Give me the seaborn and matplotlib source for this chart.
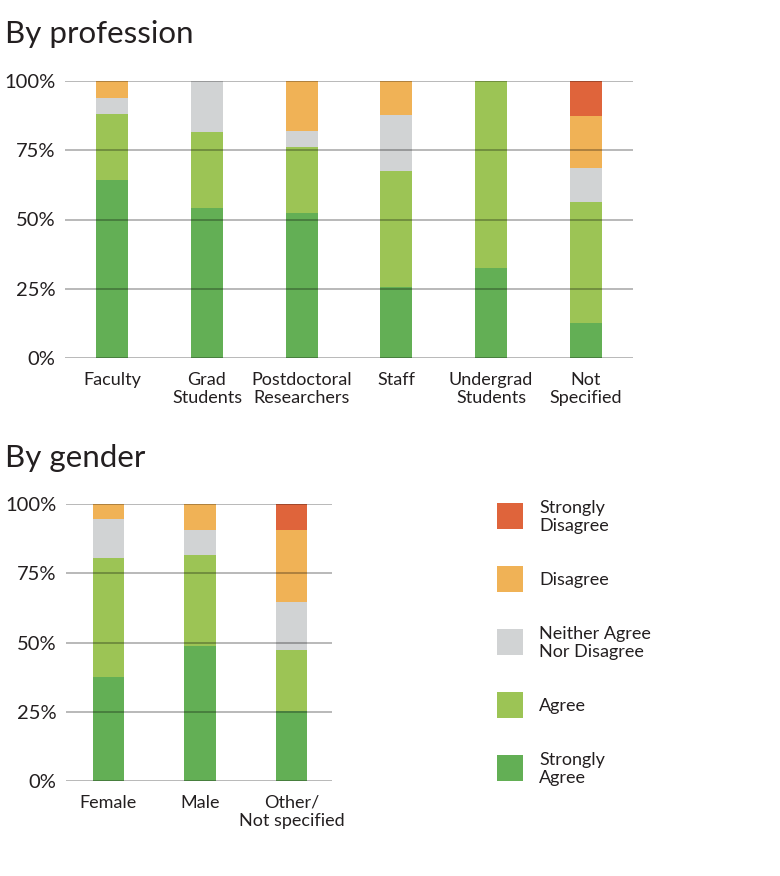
import matplotlib
matplotlib.use("Agg")
import matplotlib.pyplot as plt
from matplotlib.patches import Rectangle
import numpy as np
import seaborn as sns

# Survey responses, percent of respondents in each group
levels = ["Strongly\nDisagree", "Disagree", "Neither Agree\nNor Disagree", "Agree", "Strongly\nAgree"]
colors = ["#DF643B", "#F0B256", "#D1D3D4", "#9CC455", "#63AF55"]

prof_categories = ["Faculty", "Grad\nStudents", "Postdoctoral\nResearchers", "Staff",
                   "Undergrad\nStudents", "Not\nSpecified"]
prof_strongly_agree = [64.2, 54.0, 52.3, 25.6, 32.4, 12.5]
prof_agree = [23.9, 27.5, 23.7, 41.8, 67.6, 43.75]
prof_neither = [5.6, 18.5, 5.9, 20.5, 0.0, 12.5]
prof_disagree = [6.3, 0.0, 18.1, 12.1, 0.0, 18.75]
prof_strongly_disagree = [0.0, 0.0, 0.0, 0.0, 0.0, 12.5]

gender_categories = ["Female", "Male", "Other/\nNot specified"]
gender_strongly_agree = [37.4, 48.6, 25.3]
gender_agree = [43.2, 33.1, 22.1]
gender_neither = [14.1, 8.9, 17.1]
gender_disagree = [5.3, 9.4, 26.1]
gender_strongly_disagree = [0.0, 0.0, 9.4]

sns.set_theme(style="white")
plt.rcParams["font.family"] = ["Lato", "DejaVu Sans"]
text_color = "#231F20"


def stacked_bars(ax, categories, series, xlim):
    # series ordered bottom -> top; draw cumulative totals from the top down
    cum = np.cumsum(np.array(series), axis=0)
    bar_colors = colors[::-1]
    for i in range(len(series) - 1, -1, -1):
        sns.barplot(x=categories, y=cum[i], color=bar_colors[i], saturation=1,
                    width=0.34, order=categories, ax=ax, linewidth=0)
    ax.set_xlim(*xlim)
    ax.set_ylim(0, 100)
    ax.set_yticks([0, 25, 50, 75, 100])
    ax.set_yticklabels(["0%", "25%", "50%", "75%", "100%"])
    ax.set_axisbelow(False)
    ax.yaxis.grid(True, color="black", alpha=0.28, linewidth=1.4)
    ax.xaxis.grid(False)
    for s in ax.spines.values():
        s.set_visible(False)
    ax.tick_params(axis="y", length=0, pad=7, labelsize=14.5, labelcolor=text_color)
    ax.tick_params(axis="x", length=0, pad=10, labelsize=13, labelcolor=text_color)
    for lbl in ax.get_xticklabels():
        lbl.set_linespacing(1.2)
        lbl.set_ha("center")
    ax.set_xlabel("")
    ax.set_ylabel("")


fig = plt.figure(figsize=(7.8, 8.76), dpi=100)
W, H = 780, 876

ax1 = fig.add_axes([65 / W, (H - 358) / H, 568 / W, 277 / H])
stacked_bars(ax1, prof_categories,
             [prof_strongly_agree, prof_agree, prof_neither, prof_disagree, prof_strongly_disagree],
             (-0.5, 5.5))

ax2 = fig.add_axes([66 / W, (H - 781) / H, 266 / W, 277 / H])
stacked_bars(ax2, gender_categories,
             [gender_strongly_agree, gender_agree, gender_neither, gender_disagree,
              gender_strongly_disagree],
             (-0.46, 2.44))

fig.text(5 / W, 1 - 43 / H, "By profession", fontsize=22.5, color=text_color, va="baseline")
fig.text(5 / W, 1 - 467 / H, "By gender", fontsize=22.5, color=text_color, va="baseline")

# Legend, laid out by hand to match the evenly spaced swatches
for i, (lab, col) in enumerate(zip(levels, colors)):
    yc = 516 + i * 63
    fig.patches.append(Rectangle((497 / W, 1 - (yc + 13) / H), 26 / W, 26 / H,
                                 transform=fig.transFigure, facecolor=col,
                                 edgecolor="none"))
    fig.text(539 / W, 1 - (yc + 1) / H, lab, fontsize=13, color=text_color,
             va="center", ha="left", linespacing=1.2)

fig.savefig("out.png", dpi=100)
